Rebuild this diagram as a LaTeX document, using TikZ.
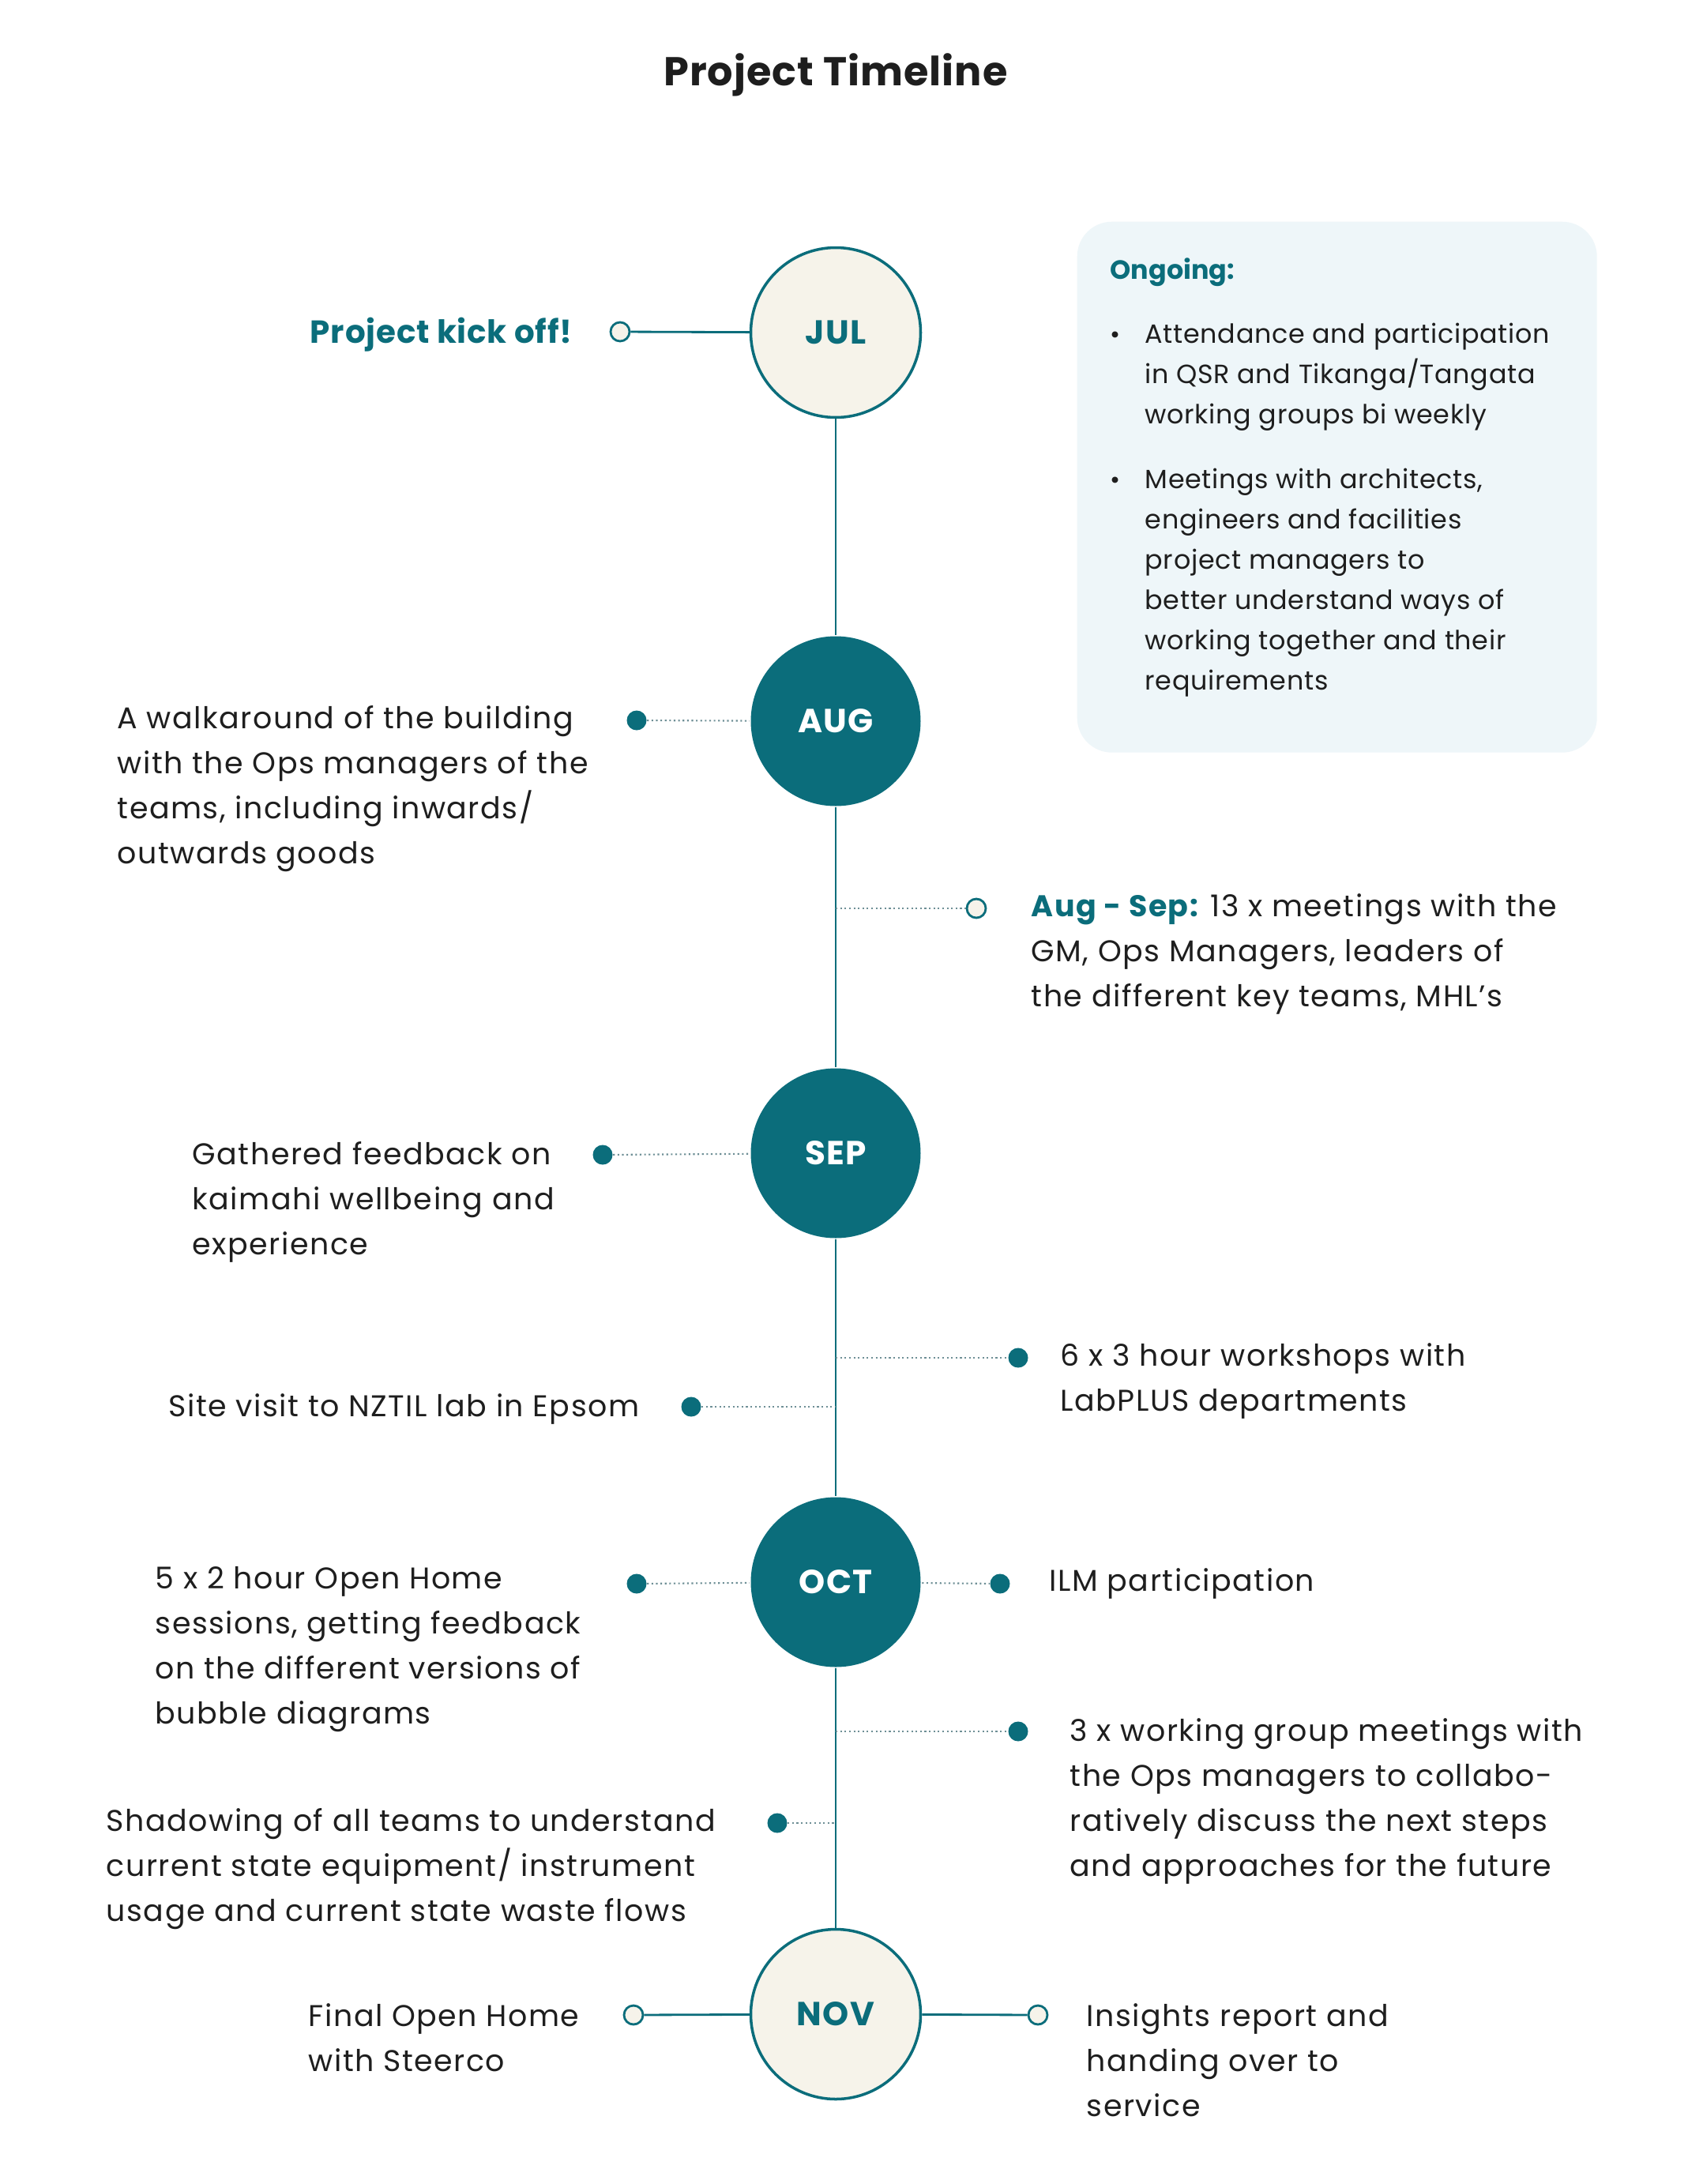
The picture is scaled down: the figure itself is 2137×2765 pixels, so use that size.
\documentclass[tikz,border=0pt]{standalone}
\usepackage{fontspec}
\setmainfont{Poppins}
\newfontfamily\bodyf{Poppins}[LetterSpace=4]
\newfontfamily\boxf{Poppins}[LetterSpace=2]
\newfontfamily\titlef{Poppins}[LetterSpace=2]
\newfontfamily\kickf{Poppins}[LetterSpace=2]
\newfontfamily\monthf{Poppins}[LetterSpace=3]
\definecolor{tl}{HTML}{0B6D7B}
\definecolor{cream}{HTML}{F6F3EA}
\definecolor{boxbg}{HTML}{EEF6F9}
\definecolor{ink}{HTML}{1E1E1E}
\definecolor{dotc}{HTML}{6E8F96}
\begin{document}
\begin{tikzpicture}[x=0.1mm,y=-0.1mm,
  month/.style={circle, minimum size=21.5mm, inner sep=0pt, line width=1pt, font=\monthf\fontsize{12}{14}\selectfont\bfseries},
  body/.style={font=\bodyf\fontsize{10.8}{16.2}\selectfont, text=ink, inner sep=0pt, align=left, anchor=north west},
  boxtext/.style={font=\boxf\fontsize{9.5}{14.5}\selectfont, text=ink, inner sep=0pt, align=left, anchor=north west},
  fdot/.style={circle, fill=tl, minimum size=2.5mm, inner sep=0pt},
  odot/.style={circle, fill=cream, draw=tl, line width=0.8pt, minimum size=2.4mm, inner sep=0pt},
  tline/.style={draw=tl, line width=0.8pt},
  dline/.style={draw=dotc, line width=0.6pt, dash pattern=on 0.6pt off 1pt},
  sline/.style={draw=tl, line width=0.8pt}]
\path[use as bounding box, fill=white] (0,0) rectangle (2137,2765);

% title
\node[anchor=base, font=\titlef\fontsize{14.5}{17}\selectfont\bfseries, text=ink, inner sep=0pt] (title) at (1058,108) {Project Timeline};

% ongoing box
\node[fill=boxbg, rounded corners=4.4mm, minimum width=65.8mm, minimum height=67.2mm, anchor=north west, inner sep=0pt] (ongoing) at (1363,280) {};
\node[anchor=base west, inner sep=0pt, text=tl, font=\fontsize{9.5}{12}\selectfont\bfseries] (ongt) at (1405,353) {Ongoing:};
\node[anchor=base, inner sep=0pt, text=ink, font=\fontsize{9}{12}\selectfont] (b1) at (1412,434) {•};
\node[boxtext] (b1t) at (1449,398) {\strut Attendance and participation\\in QSR and Tikanga/Tangata\\working groups bi weekly};
\node[anchor=base, inner sep=0pt, text=ink, font=\fontsize{9}{12}\selectfont] (b2) at (1412,618) {•};
\node[boxtext] (b2t) at (1449,582) {\strut Meetings with architects,\\engineers and facilities\\project managers to\\better understand ways of\\working together and their\\requirements};

% month circles
\node[month, fill=cream, draw=tl, text=tl] (jul) at (1058,421) {JUL};
\node[month, fill=tl, text=white] (aug) at (1058,913) {AUG};
\node[month, fill=tl, text=white] (sep) at (1058,1460) {SEP};
\node[month, fill=tl, text=white] (oct) at (1058,2003) {OCT};
\node[month, fill=cream, draw=tl, text=tl] (nov) at (1058,2550) {NOV};

\draw[tline] (jul) -- (aug);
\draw[tline] (aug) -- (sep);
\draw[tline] (sep) -- (oct);
\draw[tline] (oct) -- (nov);

% timeline coordinates
\coordinate (t3) at (1058,1150);
\coordinate (t5) at (1058,1719);
\coordinate (t6) at (1058,1781);
\coordinate (t9) at (1058,2192);
\coordinate (t10) at (1058,2308);

% markers
\node[odot] (o1) at (785,420) {};
\node[fdot] (d2) at (806,912) {};
\node[odot] (o3) at (1236,1150) {};
\node[fdot] (d4) at (763,1462) {};
\node[fdot] (d5) at (1289,1719) {};
\node[fdot] (d6) at (875,1781) {};
\node[fdot] (d7) at (806,2005) {};
\node[fdot] (d8) at (1266,2005) {};
\node[fdot] (d9) at (1289,2192) {};
\node[fdot] (d10) at (984,2308) {};
\node[odot] (o11) at (802,2551) {};
\node[odot] (o12) at (1314,2551) {};

% connectors
\draw[sline] (o1) -- (jul);
\draw[dline] (d2) -- (aug);
\draw[dline] (t3) -- (o3);
\draw[dline] (d4) -- (sep);
\draw[dline] (t5) -- (d5);
\draw[dline] (d6) -- (t6);
\draw[dline] (d7) -- (oct);
\draw[dline] (oct) -- (d8);
\draw[dline] (t9) -- (d9);
\draw[dline] (d10) -- (t10);
\draw[sline] (o11) -- (nov);
\draw[sline] (nov) -- (o12);

% texts
\node[anchor=base east, inner sep=0pt, text=tl, font=\kickf\fontsize{11.5}{14}\selectfont\bfseries] (kick) at (725,434) {Project kick off!};
\node[body] (x2) at (148,882) {\strut A walkaround of the building\\with the Ops managers of the\\teams, including inwards/\\outwards goods};
\node[body] (x3) at (1305,1120) {\strut\textcolor{tl}{\bfseries Aug - Sep:} 13 x meetings with the\\GM, Ops Managers, leaders of\\the different key teams, MHL’s};
\node[body] (x4) at (243,1434) {\strut Gathered feedback on\\kaimahi wellbeing and\\experience};
\node[body] (x5) at (1342,1689) {\strut 6 x 3 hour workshops with\\LabPLUS departments};
\node[body] (x6) at (213,1753) {\strut Site visit to NZTIL lab in Epsom};
\node[body] (x7) at (196,1971) {\strut 5 x 2 hour Open Home\\sessions, getting feedback\\on the different versions of\\bubble diagrams};
\node[body] (x8) at (1328,1974) {\strut ILM participation};
\node[body] (x9) at (1354,2164) {\strut 3 x working group meetings with\\the Ops managers to collabo-\\ratively discuss the next steps\\and approaches for the future};
\node[body] (x10) at (134,2278) {\strut Shadowing of all teams to understand\\current state equipment/ instrument\\usage and current state waste flows};
\node[body] (x11) at (390,2525) {\strut Final Open Home\\with Steerco};
\node[body] (x12) at (1375,2525) {\strut Insights report and\\handing over to\\service};
\end{tikzpicture}
\end{document}
